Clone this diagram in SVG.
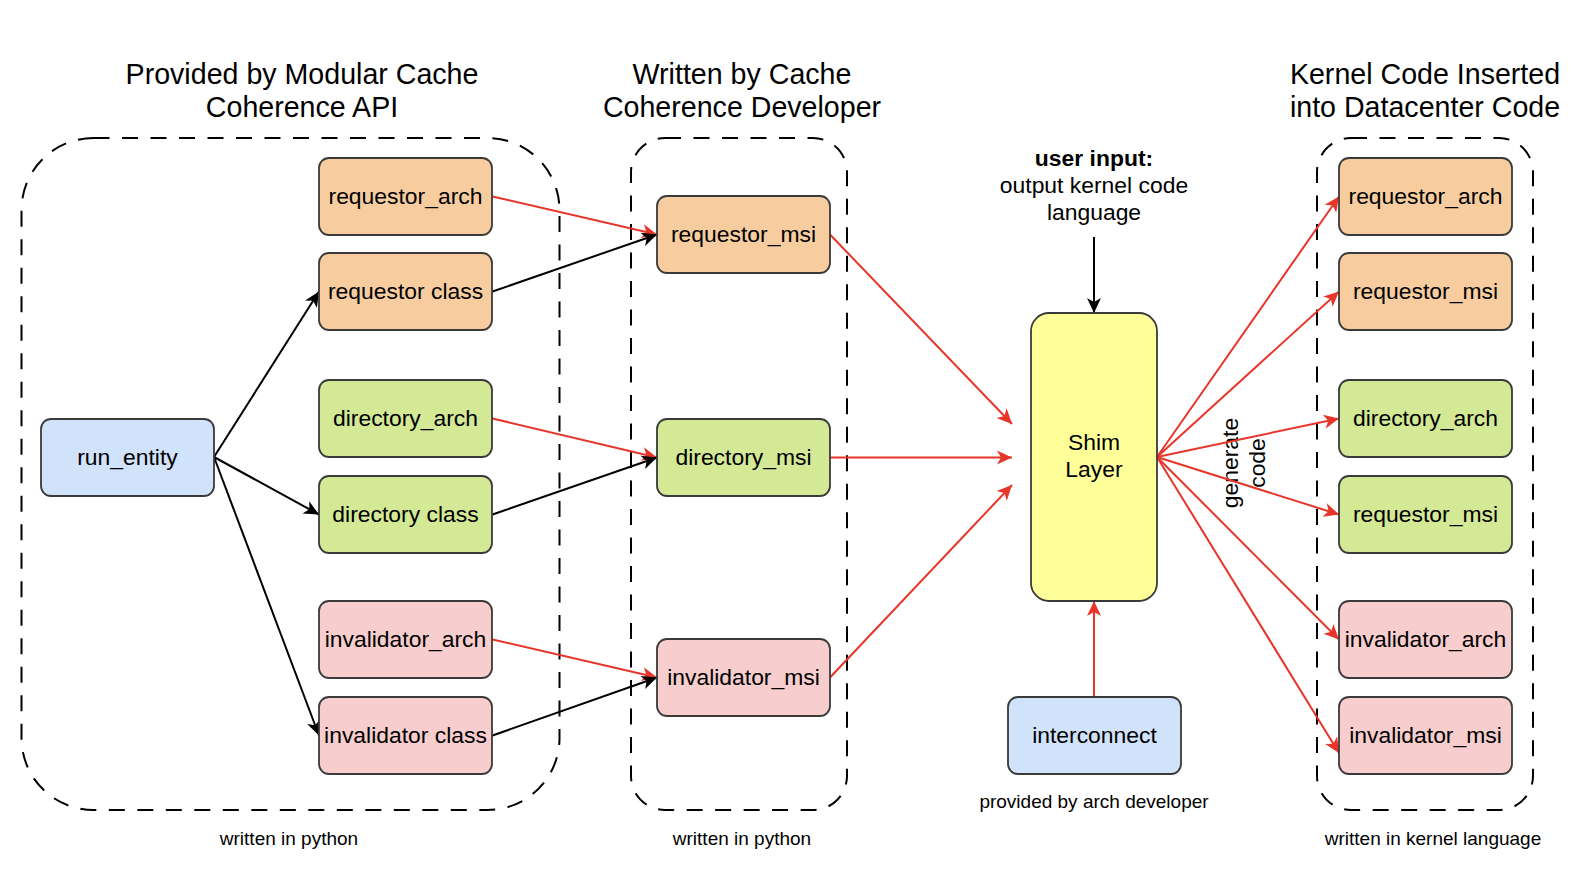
<svg xmlns="http://www.w3.org/2000/svg" width="1584" height="882" viewBox="0 0 1584 882">
<defs>
<style>
.t{font-family:"Liberation Sans",Arial,Helvetica,sans-serif;fill:#000;text-anchor:middle}
.node{font-size:22.9px}
.title{font-size:28.6px}
.small{font-size:19px}
.box{stroke:#3a3a3a;stroke-width:1.8}
.or{fill:#f7cda0}.gr{fill:#d3e995}.pk{fill:#f7cdcd}.bl{fill:#d1e2fb}.ye{fill:#ffff99}
.cont{fill:none;stroke:#000;stroke-width:2;stroke-dasharray:16 12.5}
.rl{fill:none;stroke:#e8352a;stroke-width:2;marker-end:url(#ar)}
.kl{fill:none;stroke:#000;stroke-width:2;marker-end:url(#ak)}
</style>
<marker id="ak" viewBox="-16 -8 17 16" markerWidth="17" markerHeight="16" refX="0" refY="0" orient="auto" markerUnits="userSpaceOnUse"><path d="M0,0 L-15,-7 L-11,0 L-15,7 Z" fill="#000"/></marker>
<marker id="ar" viewBox="-16 -8 17 16" markerWidth="17" markerHeight="16" refX="0" refY="0" orient="auto" markerUnits="userSpaceOnUse"><path d="M0,0 L-15,-7 L-11,0 L-15,7 Z" fill="#e8352a"/></marker>
</defs>
<rect width="1584" height="882" fill="#fff"/>

<g id="containers">
<rect class="cont" x="21.5" y="138" width="538" height="672" rx="72" ry="72"/>
<rect class="cont" x="631" y="138" width="216" height="672" rx="34" ry="34"/>
<rect class="cont" x="1317" y="138" width="216" height="672" rx="34" ry="34"/>
</g>

<g id="titles">
<text class="t title" x="302" y="84">Provided by Modular Cache</text>
<text class="t title" x="302" y="117">Coherence API</text>
<text class="t title" x="742" y="84">Written by Cache</text>
<text class="t title" x="742" y="117">Coherence Developer</text>
<text class="t title" x="1425" y="84">Kernel Code Inserted</text>
<text class="t title" x="1425" y="117">into Datacenter Code</text>
</g>

<g id="labels">
<text class="t small" x="289" y="845">written in python</text>
<text class="t small" x="742" y="845">written in python</text>
<text class="t small" x="1433" y="845">written in kernel language</text>
<text class="t small" x="1094" y="808">provided by arch developer</text>
<text class="t node" x="1094" y="165.5" font-weight="bold">user input:</text>
<text class="t node" x="1094" y="192.5">output kernel code</text>
<text class="t node" x="1094" y="219.5">language</text>
<g transform="translate(1244,463) rotate(-90)">
<text class="t node" x="0" y="-6">generate</text>
<text class="t node" x="0" y="21">code</text>
</g>
</g>

<g id="connectors">
<line class="kl" x1="214" y1="457" x2="319" y2="291.5"/>
<line class="kl" x1="214" y1="457" x2="319" y2="514.5"/>
<line class="kl" x1="214" y1="457" x2="319" y2="735.5"/>
<line class="rl" x1="492.5" y1="196.5" x2="657" y2="234.5"/>
<line class="kl" x1="492.5" y1="291.5" x2="657" y2="234.5"/>
<line class="rl" x1="492.5" y1="418.5" x2="657" y2="457.5"/>
<line class="kl" x1="492.5" y1="514.5" x2="657" y2="457.5"/>
<line class="rl" x1="492.5" y1="639.5" x2="657" y2="677.5"/>
<line class="kl" x1="492.5" y1="735.5" x2="657" y2="677.5"/>
<line class="rl" x1="830" y1="234.5" x2="1012" y2="424"/>
<line class="rl" x1="830" y1="457.5" x2="1012" y2="457.5"/>
<line class="rl" x1="830" y1="677.5" x2="1012" y2="485"/>
<line class="rl" x1="1157" y1="457" x2="1339" y2="196.5"/>
<line class="rl" x1="1157" y1="457" x2="1339" y2="291.5"/>
<line class="rl" x1="1157" y1="457" x2="1339" y2="418.5"/>
<line class="rl" x1="1157" y1="457" x2="1339" y2="514.5"/>
<line class="rl" x1="1157" y1="457" x2="1339" y2="639.5"/>
<line class="rl" x1="1157" y1="457" x2="1339" y2="753"/>
<line class="kl" x1="1094" y1="237" x2="1094" y2="313"/>
<line class="rl" x1="1094" y1="697" x2="1094" y2="601"/>
</g>

<g id="run_entity"><rect class="box bl" x="41" y="419" width="173" height="77" rx="10"/><text class="t node" x="127.5" y="465">run_entity</text></g>

<g id="requestor_arch_l"><rect class="box or" x="319" y="158" width="173" height="77" rx="10"/><text class="t node" x="405.5" y="204">requestor_arch</text></g>
<g id="requestor_class"><rect class="box or" x="319" y="253" width="173" height="77" rx="10"/><text class="t node" x="405.5" y="299">requestor class</text></g>
<g id="directory_arch_l"><rect class="box gr" x="319" y="380" width="173" height="77" rx="10"/><text class="t node" x="405.5" y="426">directory_arch</text></g>
<g id="directory_class"><rect class="box gr" x="319" y="476" width="173" height="77" rx="10"/><text class="t node" x="405.5" y="522">directory class</text></g>
<g id="invalidator_arch_l"><rect class="box pk" x="319" y="601" width="173" height="77" rx="10"/><text class="t node" x="405.5" y="647">invalidator_arch</text></g>
<g id="invalidator_class"><rect class="box pk" x="319" y="697" width="173" height="77" rx="10"/><text class="t node" x="405.5" y="743">invalidator class</text></g>

<g id="requestor_msi_m"><rect class="box or" x="657" y="196" width="173" height="77" rx="10"/><text class="t node" x="743.5" y="242">requestor_msi</text></g>
<g id="directory_msi_m"><rect class="box gr" x="657" y="419" width="173" height="77" rx="10"/><text class="t node" x="743.5" y="465">directory_msi</text></g>
<g id="invalidator_msi_m"><rect class="box pk" x="657" y="639" width="173" height="77" rx="10"/><text class="t node" x="743.5" y="685">invalidator_msi</text></g>

<g id="shim"><rect class="box ye" x="1031" y="313" width="126" height="288" rx="18"/><text class="t node" x="1094" y="450">Shim</text><text class="t node" x="1094" y="477">Layer</text></g>
<g id="interconnect"><rect class="box bl" x="1008" y="697" width="173" height="77" rx="10"/><text class="t node" x="1094.5" y="743">interconnect</text></g>

<g id="requestor_arch_r"><rect class="box or" x="1339" y="158" width="173" height="77" rx="10"/><text class="t node" x="1425.5" y="204">requestor_arch</text></g>
<g id="requestor_msi_r"><rect class="box or" x="1339" y="253" width="173" height="77" rx="10"/><text class="t node" x="1425.5" y="299">requestor_msi</text></g>
<g id="directory_arch_r"><rect class="box gr" x="1339" y="380" width="173" height="77" rx="10"/><text class="t node" x="1425.5" y="426">directory_arch</text></g>
<g id="requestor_msi_r2"><rect class="box gr" x="1339" y="476" width="173" height="77" rx="10"/><text class="t node" x="1425.5" y="522">requestor_msi</text></g>
<g id="invalidator_arch_r"><rect class="box pk" x="1339" y="601" width="173" height="77" rx="10"/><text class="t node" x="1425.5" y="647">invalidator_arch</text></g>
<g id="invalidator_msi_r"><rect class="box pk" x="1339" y="697" width="173" height="77" rx="10"/><text class="t node" x="1425.5" y="743">invalidator_msi</text></g>
</svg>
